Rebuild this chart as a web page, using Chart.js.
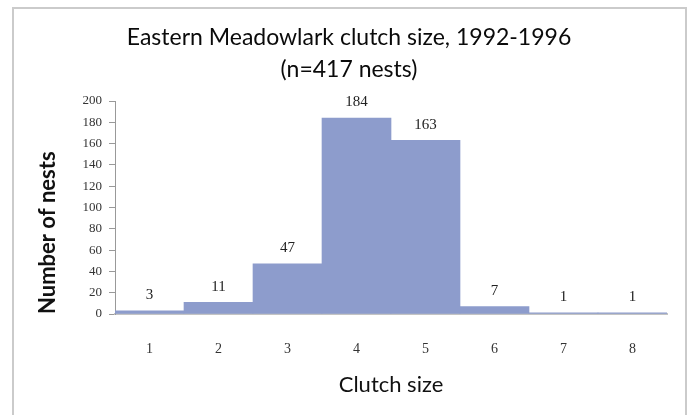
<!DOCTYPE html>
<html>
<head>
<meta charset="utf-8">
<script src="https://cdn.jsdelivr.net/npm/chart.js@4.4.0/dist/chart.umd.min.js"></script>
<style>
  body { margin: 0; background: #fff; }
  #wrap { position: relative; width: 687px; height: 415px; overflow: hidden; }
  #frame { position: absolute; left: 12px; top: 7px; width: 671px; height: 420px; border: 2px solid #cbcbcb; }
  #myChart { position: absolute; left: 0; top: 0; }
</style>
</head>
<body>
<div id="wrap">
  <div id="frame"></div>
  <canvas id="myChart" width="687" height="415"></canvas>
</div>
<script>
// dati
var clutchSizes = ["1", "2", "3", "4", "5", "6", "7", "8"];
var nests = [3, 11, 47, 184, 163, 7, 1, 1];
var yTicks = [0, 20, 40, 60, 80, 100, 120, 140, 160, 180, 200];
var titleLines = ["Eastern Meadowlark clutch size, 1992-1996", "(n=417 nests)"];

var sansFont = "Lato, 'Open Sans', sans-serif";
var serifFont = "'Liberation Serif', 'DejaVu Serif', serif";

// plugin per il titolo (centrato sul riquadro, non sull'area del grafico)
var chartTitle = {
  id: "chartTitle",
  afterDraw: function(chart) {
    var ctx = chart.ctx;
    ctx.save();
    ctx.font = "23px " + sansFont;
    ctx.fillStyle = "#0a0a0a";
    ctx.textAlign = "center";
    ctx.textBaseline = "middle";
    ctx.fillText(titleLines[0], 349, 38);
    ctx.fillText(titleLines[1], 349, 70);
    ctx.restore();
  }
};

// plugin per scrivere i valori sopra le barre
var barLabels = {
  id: "barLabels",
  afterDatasetsDraw: function(chart) {
    var ctx = chart.ctx;
    var meta = chart.getDatasetMeta(0);
    ctx.save();
    ctx.font = "15px " + serifFont;
    ctx.fillStyle = "#222";
    ctx.textAlign = "center";
    ctx.textBaseline = "bottom";
    meta.data.forEach(function(bar, i) {
      ctx.fillText(nests[i], bar.x, bar.y - 8);
    });
    ctx.restore();
  }
};

var ctx = document.getElementById("myChart").getContext("2d");
var myChart = new Chart(ctx, {
  type: "bar",
  data: {
    labels: clutchSizes,
    datasets: [{
      data: nests,
      backgroundColor: "#8d9ccc",
      borderWidth: 0,
      categoryPercentage: 1.0,
      barPercentage: 1.0
    }]
  },
  options: {
    responsive: false,
    animation: false,
    layout: { padding: { left: 0, right: 20, top: 101, bottom: 0 } },
    plugins: {
      legend: { display: false },
      tooltip: { enabled: false },
      title: { display: false }
    },
    scales: {
      x: {
        afterFit: function(scale) { scale.height = 101; },
        grid: { display: false, drawTicks: false },
        border: { display: true, color: "#c4c4c4", width: 2 },
        ticks: { color: "#333", padding: 27, font: { family: serifFont, size: 14 } },
        title: {
          display: true,
          text: "Clutch size",
          color: "#111",
          font: { family: sansFont, size: 22, weight: "normal" },
          padding: { top: 0, bottom: 17 }
        }
      },
      y: {
        min: 0,
        max: 200,
        afterBuildTicks: function(scale) {
          scale.ticks = yTicks.map(function(v) { return { value: v }; });
        },
        afterFit: function(scale) { scale.width = 115; },
        grid: { drawOnChartArea: false, drawTicks: true, tickLength: 6, color: "#999" },
        border: { display: true, color: "#999", width: 1 },
        ticks: { color: "#333", padding: 7, font: { family: serifFont, size: 13 } },
        title: {
          display: true,
          text: "Number of nests",
          align: "start",
          color: "#111",
          font: { family: sansFont, size: 22, weight: "bold" },
          padding: { top: 35, bottom: 0 }
        }
      }
    }
  },
  plugins: [barLabels, chartTitle]
});
</script>
</body>
</html>
